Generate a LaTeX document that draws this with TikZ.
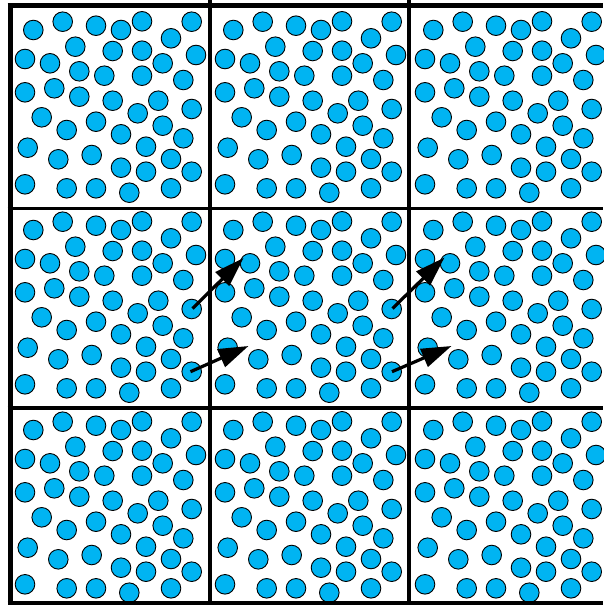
\documentclass[tikz,border=0pt]{standalone}
\usetikzlibrary{arrows.meta}
\definecolor{particlecol}{RGB}{0,180,242}
\tikzset{
  particle/.style={circle, draw=black, fill=particlecol, line width=0.9pt, minimum size=19.6pt, inner sep=0pt},
  outerwall/.style={line width=5pt},
  innerwall/.style={line width=3.8pt},
  move/.style={line width=3.2pt, -{Triangle[length=30pt,width=19pt]}}
}
\begin{document}
\begin{tikzpicture}[x=1pt,y=-1pt]
\useasboundingbox (0,0) rectangle (603,605);
\fill[white] (0,0) rectangle (603,605);
% particles, repeated in every periodic image
\foreach \cx in {0,200,400}{
  \foreach \cy in {0,200,400}{
    \foreach \px/\py in {33.3/30, 62.7/21.7, 96/25.7, 121/30, 142/21.3, 191.7/21.7, 171/38.3,
      75.3/46.7, 112.7/51, 142/50.7, 196/55, 25/59, 50/63.3, 162.7/63.3,
      79.3/71.3, 104.3/75.7, 142/75.7, 183.3/80, 25/92.3, 54.3/88.3, 79.3/96.7,
      112.7/100.7, 158.3/100.7, 191.7/109, 137.7/113.3, 41.7/117.3, 96/121.7,
      66.7/130, 162.7/125.7, 121/134.3, 183.3/138.3, 27.7/147.7, 146/146.7,
      58.3/159.3, 91.7/155, 171/159, 121/167.7, 146/171.7, 191.7/171.7,
      25/184.3, 66.7/188.3, 96/188.3, 129.3/192.7, 171/188.3}{
      \node[particle] at (\px+\cx,\py+\cy) {};
    }
  }
}
% cell walls
\draw[innerwall] (209.7,0) -- (209.7,605);
\draw[innerwall] (408.7,0) -- (408.7,605);
\draw[innerwall] (7.5,208.5) -- (603,208.5);
\draw[innerwall] (7.5,408) -- (603,408);
\draw[outerwall] (10,3) -- (10,605);
\draw[outerwall] (7.5,5.5) -- (603,5.5);
\draw[outerwall] (7.5,603) -- (603,603);
% displacement arrows
\coordinate (a1) at (192.5,308.5);
\coordinate (b1) at (243.5,258);
\coordinate (a2) at (190.5,371.7);
\coordinate (b2) at (248.5,346);
\coordinate (a3) at (392.5,308.5);
\coordinate (b3) at (444.5,257.5);
\coordinate (a4) at (392,371.7);
\coordinate (b4) at (451.5,346);
\draw[move] (a1) -- (b1);
\draw[move] (a2) -- (b2);
\draw[move] (a3) -- (b3);
\draw[move] (a4) -- (b4);
\end{tikzpicture}
\end{document}
